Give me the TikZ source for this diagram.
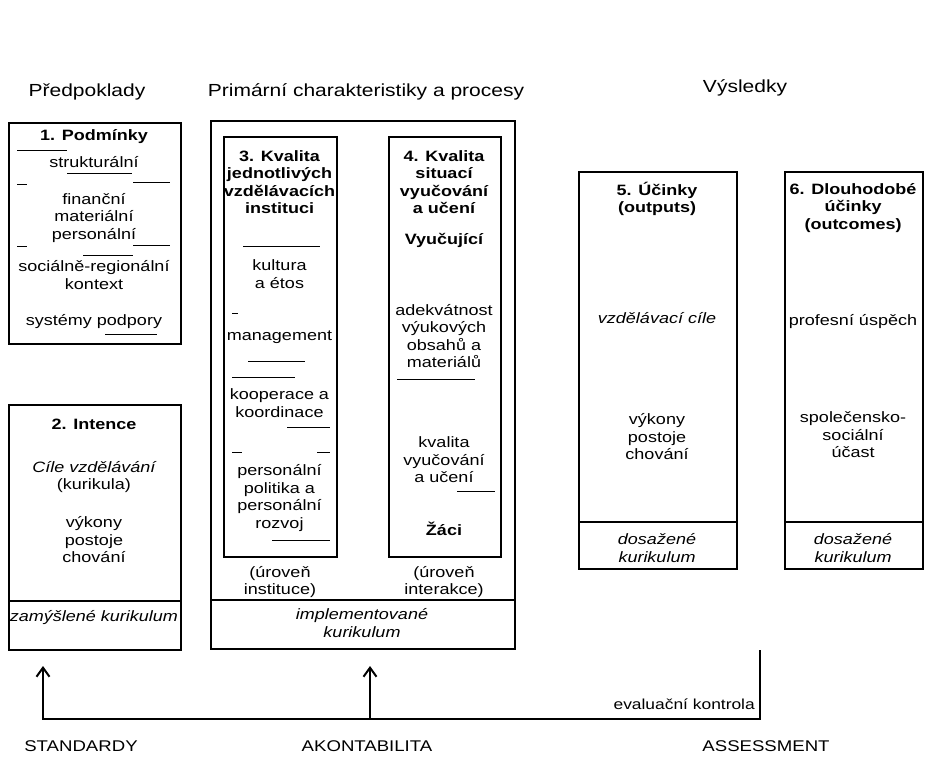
\documentclass[tikz,border=0pt]{standalone}
\usepackage{fontspec}
\setmainfont{Liberation Sans}[FakeStretch=1.2]
\usetikzlibrary{arrows.meta}
\tikzset{
  box/.style={draw, line width=1.8pt, inner sep=0pt, anchor=north west},
  divline/.style={line width=1.6pt},
  txt/.style={align=center, inner sep=0pt, font=\fontsize{15}{17.5}\selectfont},
  ttl/.style={align=center, inner sep=0pt, font=\bfseries\fontsize{15}{17.5}\selectfont},
  itx/.style={align=center, inner sep=0pt, font=\itshape\fontsize{15}{17.5}\selectfont},
  hdr/.style={inner sep=0pt, font=\fontsize{17.5}{20}\selectfont},
  lab/.style={inner sep=0pt, font=\fontsize{15.5}{18}\selectfont},
  deco/.style={line width=0.8pt},
  flow/.style={line width=2pt},
  flowarr/.style={flow, -{Straight Barb[length=9pt, width=13pt, line width=2pt]}},
}
\begin{document}
\begin{tikzpicture}[x=1pt, y=-1pt]
\useasboundingbox (0,0) rectangle (925,756);

% headers
\node[hdr] (h1) at (87,92) {Předpoklady};
\node[hdr] (h2) at (366,92) {Primární charakteristiky a procesy};
\node[hdr] (h3) at (745,88) {Výsledky};

% boxes
\node[box, minimum width=172pt, minimum height=221pt] (b1) at (8,122) {};
\node[box, minimum width=172pt, minimum height=245pt] (b2) at (8,404) {};
\node[box, minimum width=304pt, minimum height=528pt] (bo) at (210,120) {};
\node[box, minimum width=113pt, minimum height=420pt] (b3) at (223,136) {};
\node[box, minimum width=112pt, minimum height=420pt] (b4) at (388,136) {};
\node[box, minimum width=158pt, minimum height=397pt] (b5) at (578,171) {};
\node[box, minimum width=138pt, minimum height=397pt] (b6) at (784,171) {};

% dividers
\draw[divline] (8,601) -- (180,601);
\draw[divline] (210,600) -- (514,600);
\draw[divline] (578,522) -- (736,522);
\draw[divline] (784,522) -- (922,522);

% box 1
\node[ttl] (t1a) at (94,137) {1. Podmínky};
\node[txt] (t1b) at (94,162) {strukturální};
\node[txt] (t1c) at (94,218) {finanční\\materiální\\personální};
\node[txt] (t1d) at (94,275) {sociálně-regionální\\kontext};
\node[txt] (t1e) at (94,322) {systémy podpory};
\draw[deco] (17,150) -- (67,150);
\draw[deco] (67,173) -- (132,173);
\draw[deco] (17,184) -- (27,184);
\draw[deco] (133,182) -- (170,182);
\draw[deco] (17,246) -- (27,246);
\draw[deco] (133,245) -- (170,245);
\draw[deco] (83,255) -- (133,255);
\draw[deco] (105,334) -- (157,334);

% box 2
\node[ttl] (t2a) at (94,424) {2. Intence};
\node[txt] (t2b) at (94,477) {{\itshape Cíle vzdělávání}\\(kurikula)};
\node[txt] (t2c) at (94,540) {výkony\\postoje\\chování};
\node[itx] (t2d) at (94,618) {zamýšlené kurikulum};

% box 3
\node[ttl] (t3a) at (279.5,182) {3. Kvalita\\jednotlivých\\vzdělávacích\\instituci};
\node[txt] (t3b) at (279.5,274) {kultura\\a étos};
\node[txt] (t3c) at (279.5,337) {management};
\node[txt] (t3d) at (279.5,403) {kooperace a\\koordinace};
\node[txt] (t3e) at (279.5,498) {personální\\politika a\\personální\\rozvoj};
\node[txt] (t3f) at (280,582) {(úroveň\\instituce)};
\draw[deco] (243,246) -- (320,246);
\draw[deco] (232,313) -- (238,313);
\draw[deco] (248,361) -- (305,361);
\draw[deco] (232,377) -- (295,377);
\draw[deco] (287,427) -- (330,427);
\draw[deco] (232,452) -- (242,452);
\draw[deco] (317,452) -- (330,452);
\draw[deco] (272,540) -- (330,540);

% box 4
\node[ttl] (t4a) at (444,182) {4. Kvalita\\situací\\vyučování\\a učení};
\node[ttl] (t4b) at (444,240) {Vyučující};
\node[txt] (t4c) at (444,336) {adekvátnost\\výukových\\obsahů a\\materiálů};
\node[txt] (t4d) at (444,460) {kvalita\\vyučování\\a učení};
\node[ttl] (t4e) at (444,529) {Žáci};
\node[txt] (t4f) at (444,582) {(úroveň\\interakce)};
\draw[deco] (397,379) -- (475,379);
\draw[deco] (457,491) -- (495,491);

% outer box bottom
\node[itx] (tob) at (362,623) {implementované\\kurikulum};

% box 5
\node[ttl] (t5a) at (657,199) {5. Účinky\\(outputs)};
\node[itx] (t5b) at (657,318) {vzdělávací cíle};
\node[txt] (t5c) at (657,437) {výkony\\postoje\\chování};
\node[itx] (t5d) at (657,548) {dosažené\\kurikulum};

% box 6
\node[ttl] (t6a) at (853,208) {6. Dlouhodobé\\účinky\\(outcomes)};
\node[txt] (t6b) at (853,322) {profesní úspěch};
\node[txt] (t6c) at (853,435) {společensko-\\sociální\\účast};
\node[itx] (t6d) at (853,548) {dosažené\\kurikulum};

% feedback lines
\coordinate (evtop) at (760,650);
\coordinate (base1) at (43,719);
\coordinate (base2) at (370,719);
\coordinate (tip1) at (43,666);
\coordinate (tip2) at (370,666);
\draw[flowarr] (evtop) |- (base1) -- (tip1);
\draw[flowarr] (base2) -- (tip2);
\node[inner sep=0pt, anchor=east, font=\fontsize{14.5}{17}\selectfont] (ev) at (755,704) {evaluační kontrola};

% bottom labels
\node[lab] (l1) at (81,746) {STANDARDY};
\node[lab] (l2) at (367,746) {AKONTABILITA};
\node[lab] (l3) at (766,746) {ASSESSMENT};
\end{tikzpicture}
\end{document}
